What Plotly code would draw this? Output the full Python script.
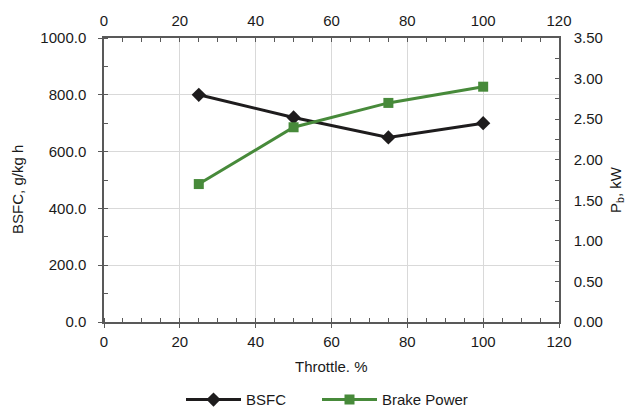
import plotly.graph_objects as go

throttle = [25, 50, 75, 100]
bsfc = [800, 720, 650, 700]
brake_power = [1.7, 2.4, 2.7, 2.9]

font = "Liberation Sans, Arial, sans-serif"
axis_col = "#595959"
grid_col = "#d9d9d9"
txt_col = "#1a1a1a"
fs = 15

fig = go.Figure()
fig.add_trace(go.Scatter(x=throttle, y=bsfc, name="BSFC", mode="lines+markers",
                         line=dict(color="#1e1c1d", width=3),
                         marker=dict(symbol="diamond", size=11, color="#1e1c1d"),
                         xaxis="x", yaxis="y", legend="legend"))
fig.add_trace(go.Scatter(x=throttle, y=brake_power, name="Brake Power", mode="lines+markers",
                         line=dict(color="#478a3a", width=3),
                         marker=dict(symbol="square", size=10, color="#478a3a"),
                         xaxis="x2", yaxis="y2", legend="legend2"))

common_x = dict(range=[0, 120], dtick=20, showline=True, linecolor=axis_col, linewidth=1.5,
                ticklen=4, tickcolor=axis_col, automargin=False,
                minor=dict(dtick=5, ticks="inside", ticklen=4, tickcolor=axis_col, showgrid=False),
                tickfont=dict(family=font, size=fs, color=txt_col), zeroline=False)

legend_common = dict(orientation="h", xref="container", yref="container", xanchor="left",
                     y=0.02, yanchor="middle", font=dict(size=fs, color=txt_col), itemwidth=55,
                     bgcolor="rgba(0,0,0,0)")

fig.update_layout(
    width=629, height=408,
    margin=dict(l=104, r=70, t=38, b=86),
    paper_bgcolor="white", plot_bgcolor="white",
    font=dict(family=font, size=fs, color=txt_col),
    xaxis=dict(**common_x, ticks="outside", ticklabelstandoff=1,
               showgrid=True, gridcolor=grid_col, gridwidth=1),
    xaxis2=dict(**common_x, ticks="inside", ticklabelstandoff=4,
                overlaying="x", side="top", showgrid=False),
    yaxis=dict(range=[0, 1000], dtick=200, tickformat=".1f", showline=True, linecolor=axis_col,
               linewidth=1.5, ticks="outside", ticklen=4, tickcolor=axis_col, automargin=False,
               ticklabelstandoff=9,
               minor=dict(dtick=100, ticks="inside", ticklen=4, tickcolor=axis_col, showgrid=False),
               showgrid=True, gridcolor=grid_col, gridwidth=1, zeroline=False,
               tickfont=dict(size=fs, color=txt_col)),
    yaxis2=dict(range=[0, 3.5], dtick=0.5, tickformat=".2f", overlaying="y", side="right",
                showline=True, linecolor=axis_col, linewidth=1.5, ticks="inside", ticklen=4,
                tickcolor=axis_col, automargin=False, ticklabelstandoff=10,
                minor=dict(dtick=0.25, ticks="inside", ticklen=4, tickcolor=axis_col, showgrid=False),
                showgrid=False, zeroline=False,
                tickfont=dict(size=fs, color=txt_col)),
    legend=dict(**legend_common, x=181 / 629),
    legend2=dict(**legend_common, x=317 / 629),
    annotations=[
        dict(text="Throttle. %", xref="paper", yref="paper", x=0.5, y=-0.158,
             xanchor="center", yanchor="middle", showarrow=False, font=dict(size=fs, color=txt_col)),
        dict(text="BSFC, g/kg h", xref="paper", yref="paper", x=-0.189, y=0.465,
             xanchor="center", yanchor="middle", textangle=-90, showarrow=False,
             font=dict(size=fs, color=txt_col)),
        dict(text="P<sub>b</sub>, kW", xref="paper", yref="paper", x=1.1275, y=0.465,
             xanchor="center", yanchor="middle", textangle=-90, showarrow=False,
             font=dict(size=fs, color=txt_col)),
    ],
    showlegend=True,
)

fig.write_html("out.html", config={"displayModeBar": False},
               post_script="document.body.style.margin='0';document.body.style.overflow='hidden';")
